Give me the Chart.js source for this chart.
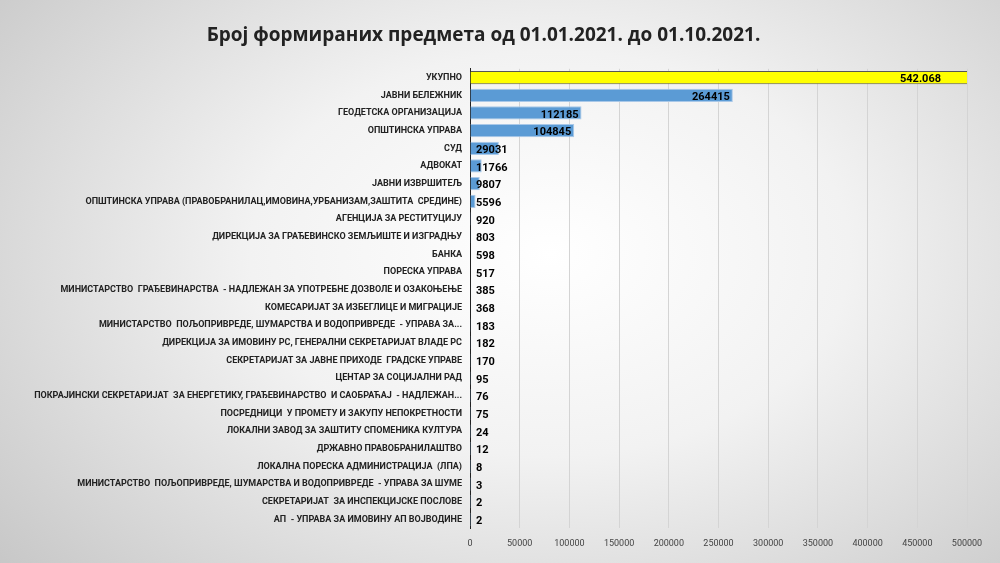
<!DOCTYPE html>
<html><head><meta charset="utf-8">
<script src="https://cdn.jsdelivr.net/npm/chart.js@4"></script>
<style>
html,body{margin:0;padding:0;width:1000px;height:563px;overflow:hidden;
background:radial-gradient(ellipse 75% 90% at 55% 45%,#ffffff 0%,#f2f2f2 40%,#c4c4c4 100%);}
#c{position:absolute;left:0;top:0}
</style></head><body>
<canvas id="c" width="1000" height="563"></canvas>
<script>
const categories=["УКУПНО","ЈАВНИ БЕЛЕЖНИК","ГЕОДЕТСКА ОРГАНИЗАЦИЈА","ОПШТИНСКА УПРАВА","СУД","АДВОКАТ","ЈАВНИ ИЗВРШИТЕЉ","ОПШТИНСКА УПРАВА (ПРАВОБРАНИЛАЦ,ИМОВИНА,УРБАНИЗАМ,ЗАШТИТА  СРЕДИНЕ)","АГЕНЦИЈА ЗА РЕСТИТУЦИЈУ","ДИРЕКЦИЈА ЗА ГРАЂЕВИНСКО ЗЕМЉИШТЕ И ИЗГРАДЊУ","БАНКА","ПОРЕСКА УПРАВА","МИНИСТАРСТВО  ГРАЂЕВИНАРСТВА  - НАДЛЕЖАН ЗА УПОТРЕБНЕ ДОЗВОЛЕ И ОЗАКОЊЕЊЕ","КОМЕСАРИЈАТ ЗА ИЗБЕГЛИЦЕ И МИГРАЦИЈЕ","МИНИСТАРСТВО  ПОЉОПРИВРЕДЕ, ШУМАРСТВА И ВОДОПРИВРЕДЕ  - УПРАВА ЗА...","ДИРЕКЦИЈА ЗА ИМОВИНУ РС, ГЕНЕРАЛНИ СЕКРЕТАРИЈАТ ВЛАДЕ РС","СЕКРЕТАРИЈАТ ЗА ЈАВНЕ ПРИХОДЕ  ГРАДСКЕ УПРАВЕ","ЦЕНТАР ЗА СОЦИЈАЛНИ РАД","ПОКРАЈИНСКИ СЕКРЕТАРИЈАТ  ЗА ЕНЕРГЕТИКУ, ГРАЂЕВИНАРСТВО  И САОБРАЋАЈ  - НАДЛЕЖАН...","ПОСРЕДНИЦИ  У ПРОМЕТУ И ЗАКУПУ НЕПОКРЕТНОСТИ","ЛОКАЛНИ ЗАВОД ЗА ЗАШТИТУ СПОМЕНИКА КУЛТУРА","ДРЖАВНО ПРАВОБРАНИЛАШТВО","ЛОКАЛНА ПОРЕСКА АДМИНИСТРАЦИЈА  (ЛПА)","МИНИСТАРСТВО  ПОЉОПРИВРЕДЕ, ШУМАРСТВА И ВОДОПРИВРЕДЕ  - УПРАВА ЗА ШУМЕ","СЕКРЕТАРИЈАТ  ЗА ИНСПЕКЦИЈСКЕ ПОСЛОВЕ","АП  - УПРАВА ЗА ИМОВИНУ АП ВОЈВОДИНЕ"];
const values=[542068,264415,112185,104845,29031,11766,9807,5596,920,803,598,517,385,368,183,182,170,95,76,75,24,12,8,3,2,2];
const valueLabels=["542.068","264415","112185","104845","29031","11766","9807","5596","920","803","598","517","385","368","183","182","170","95","76","75","24","12","8","3","2","2"];
const xTicks=[0,50000,100000,150000,200000,250000,300000,350000,400000,450000,500000];
const FONT="'DejaVu Sans Condensed','Liberation Sans Narrow','Roboto',sans-serif";
const labelPlugin={id:'vl',afterDatasetsDraw(ch){
  const ctx=ch.ctx,meta=ch.getDatasetMeta(0),a=ch.chartArea;
  ctx.save();ctx.font="bold 11px 'Roboto',sans-serif";ctx.fillStyle="#000";ctx.textBaseline="middle";
  meta.data.forEach((b,i)=>{
    const x=Math.min(b.x,a.right),w=ctx.measureText(valueLabels[i]).width;
    if(b.x>=a.right-1){ctx.textAlign="right";ctx.fillText(valueLabels[i],a.right-26,b.y+2);}
    else if(x-a.left>w+20){ctx.textAlign="right";ctx.fillText(valueLabels[i],x-3,b.y+2);}
    else{ctx.textAlign="left";ctx.fillText(valueLabels[i],a.left+6,b.y+2);}
  });ctx.restore();}};
new Chart(document.getElementById('c'),{type:'bar',
 data:{labels:categories,datasets:[{data:values,
   backgroundColor:values.map((v,i)=>i===0?'#ffff00':'#5b9bd5'),
   borderColor:values.map((v,i)=>i===0?'#555':'#a9c8e8'),borderWidth:1,
   barPercentage:0.75,categoryPercentage:1}]},
 options:{indexAxis:'y',responsive:false,animation:false,
  layout:{padding:{top:0,right:33,bottom:4,left:0}},
  plugins:{legend:{display:false},tooltip:{enabled:false},
   title:{display:true,text:'Број формираних предмета од 01.01.2021. до 01.10.2021.',
    color:'#222',font:{family:"'Open Sans',sans-serif",size:19,weight:'bold'},padding:{top:24,bottom:22}}},
  scales:{
   x:{min:0,max:500000,afterBuildTicks(s){s.ticks=xTicks.map(v=>({value:v}));},
    grid:{color:'#d4d4d4',drawTicks:false},border:{display:false},
    ticks:{color:'#444',font:{family:"'Roboto',sans-serif",size:9},padding:10,callback:v=>String(v)}},
   y:{afterFit(s){s.width=470;},grid:{display:false,drawTicks:true,tickLength:4},
    border:{display:true,color:'#222',width:1},
    ticks:{color:'#222',font:{family:"'Roboto',sans-serif",size:9,weight:'bold'},autoSkip:false,padding:4}}
  }},plugins:[labelPlugin]});
</script></body></html>
